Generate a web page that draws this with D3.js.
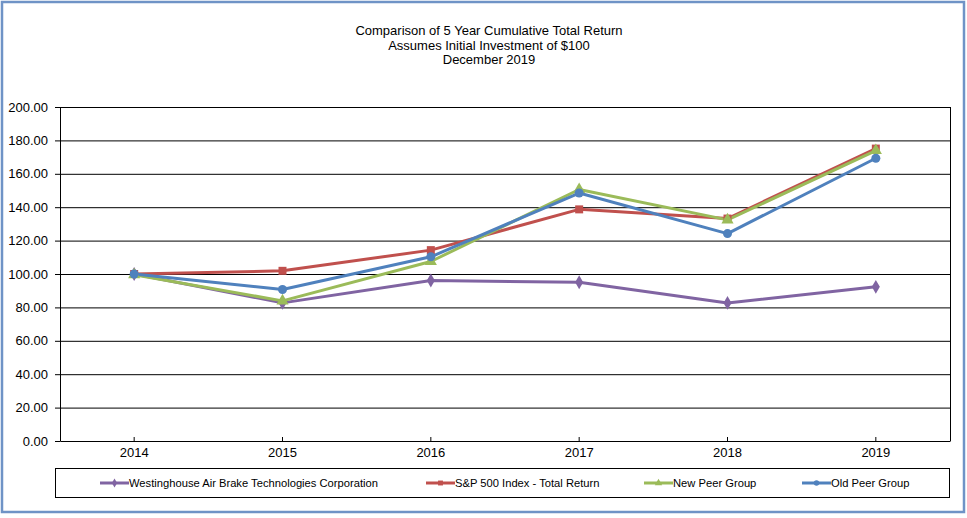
<!DOCTYPE html>
<html>
<head>
<meta charset="utf-8">
<script src="https://cdn.jsdelivr.net/npm/d3@7"></script>
<style>
  body { margin: 0; background: #fff; }
  text { font-family: "Liberation Sans", Arial, sans-serif; fill: #000; }
</style>
</head>
<body>
<div id="chart"></div>
<script>
// chart values
var years = ["2014", "2015", "2016", "2017", "2018", "2019"];
var wabtec = [100.00, 82.7, 96.1, 95.1, 82.7, 92.3];
var sp500 = [100.00, 101.9, 114.3, 138.7, 133.2, 175.1];
var newPeer = [99.5, 83.9, 107.5, 150.6, 132.4, 173.9];
var oldPeer = [100.00, 90.7, 110.3, 148.5, 124.2, 169.3];
var yTicks = [0, 20, 40, 60, 80, 100, 120, 140, 160, 180, 200];
var titleLines = ["Comparison of 5 Year Cumulative Total Return", "Assumes Initial Investment of $100", "December 2019"];

var series = [
  {name: "Westinghouse Air Brake Technologies Corporation", values: wabtec, color: "#8064A2", symbol: d3.symbolDiamond, size: 56, lx: 100},
  {name: "S&P 500 Index - Total Return", values: sp500, color: "#C0504D", symbol: d3.symbolSquare, size: 64, lx: 426},
  {name: "New Peer Group", values: newPeer, color: "#9BBB59", symbol: d3.symbolTriangle, size: 64, lx: 644},
  {name: "Old Peer Group", values: oldPeer, color: "#4F81BD", symbol: d3.symbolCircle, size: 64, lx: 802}
];

var width = 967, height = 518;
var margin = {top: 107, right: 17, bottom: 77, left: 60};
var w = width - margin.left - margin.right,
    h = height - margin.top - margin.bottom;

var svg = d3.select("#chart").append("svg")
    .attr("width", width)
    .attr("height", height);

// outer frame
svg.append("rect")
    .attr("x", 2).attr("y", 2)
    .attr("width", width - 5).attr("height", height - 8)
    .attr("fill", "#fff")
    .attr("stroke", "#6f93c6")
    .attr("stroke-width", 2.5);

var title = svg.append("text")
    .attr("text-anchor", "middle")
    .style("font-size", "13px");
titleLines.forEach(function(t, i) {
  title.append("tspan").attr("x", 489).attr("y", 35 + i * 14.5).text(t);
});

var x = d3.scaleBand().domain(years).range([0, w]),
    y = d3.scaleLinear().domain([0, 200]).range([h, 0]);

var g = svg.append("g")
    .attr("transform", "translate(" + margin.left + "," + margin.top + ")");

// gridlines
g.append("g")
    .selectAll("line")
    .data(yTicks.filter(function(d) { return d > 0; }))
    .enter().append("line")
    .attr("x1", 0).attr("x2", w)
    .attr("y1", function(d) { return y(d) + 0.5; })
    .attr("y2", function(d) { return y(d) + 0.5; })
    .attr("stroke", "#000")
    .attr("stroke-width", 1);

// right edge of plot
g.append("line")
    .attr("x1", w + 0.5).attr("x2", w + 0.5)
    .attr("y1", 0).attr("y2", h)
    .attr("stroke", "#000");

var yAxis = g.append("g")
    .call(d3.axisLeft(y).tickValues(yTicks).tickFormat(d3.format(".2f")).tickSize(5).tickSizeOuter(0));
yAxis.select(".domain").attr("stroke", "#000");
yAxis.selectAll("text").style("font-size", "13px").attr("x", -12).attr("fill", "#000");

var xAxis = g.append("g")
    .attr("transform", "translate(0," + h + ")")
    .call(d3.axisBottom(x).tickSize(-4).tickSizeOuter(0));
xAxis.select(".domain").attr("stroke", "#000");
xAxis.selectAll("text").style("font-size", "13px").attr("y", 7).attr("dy", "0.71em").attr("fill", "#000");

var line = d3.line()
    .x(function(d, i) { return x(years[i]) + x.bandwidth() / 2; })
    .y(function(d) { return y(d); });

series.forEach(function(s) {
  g.append("path")
      .datum(s.values)
      .attr("fill", "none")
      .attr("stroke", s.color)
      .attr("stroke-width", 3)
      .attr("stroke-linejoin", "round")
      .attr("d", line);
});

series.forEach(function(s) {
  g.selectAll(null)
      .data(s.values)
      .enter().append("path")
      .attr("transform", function(d, i) {
        return "translate(" + (x(years[i]) + x.bandwidth() / 2) + "," + y(d) + ")";
      })
      .attr("d", d3.symbol().type(s.symbol).size(s.size))
      .attr("fill", s.color);
});

// legend
var legend = svg.append("g");
legend.append("rect")
    .attr("x", 55.5).attr("y", 468.5)
    .attr("width", 894).attr("height", 29)
    .attr("fill", "#fff")
    .attr("stroke", "#000");

var item = legend.selectAll(".item")
    .data(series)
    .enter().append("g")
    .attr("transform", function(d) { return "translate(" + d.lx + ",483)"; });
item.append("line")
    .attr("x1", 0).attr("x2", 29)
    .attr("stroke", function(d) { return d.color; })
    .attr("stroke-width", 3);
item.append("path")
    .attr("transform", "translate(14.5,0)")
    .attr("d", function(d) { return d3.symbol().type(d.symbol).size(24)(); })
    .attr("fill", function(d) { return d.color; });
item.append("text")
    .attr("x", 29)
    .attr("dy", "0.35em")
    .style("font-size", "11.2px")
    .text(function(d) { return d.name; });
</script>
</body>
</html>
